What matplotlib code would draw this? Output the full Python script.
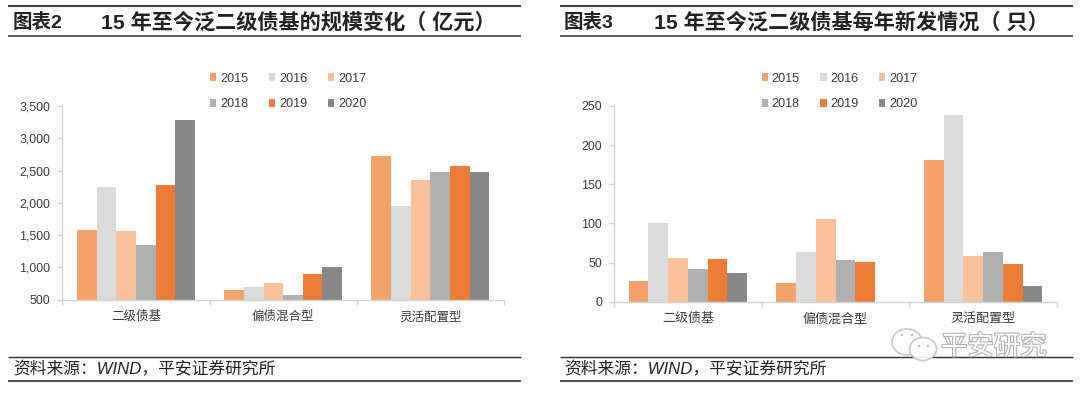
import numpy as np
import matplotlib
matplotlib.use('Agg')
import matplotlib.pyplot as plt
import matplotlib.patheffects as pe
from matplotlib.patches import Ellipse

# Chart data
categories = ['二级债基', '偏债混合型', '灵活配置型']
years = ['2015', '2016', '2017', '2018', '2019', '2020']
scale_2015 = [1580, 645, 2730]
scale_2016 = [2238, 695, 1950]
scale_2017 = [1560, 760, 2360]
scale_2018 = [1345, 570, 2475]
scale_2019 = [2280, 895, 2565]
scale_2020 = [3280, 1000, 2480]
new_2015 = [26, 23.5, 181]
new_2016 = [101, 63, 238]
new_2017 = [56, 106, 58]
new_2018 = [42, 53, 63]
new_2019 = [54, 51, 48]
new_2020 = [37, 0, 20]
left_ticks = [500, 1000, 1500, 2000, 2500, 3000, 3500]
right_ticks = [0, 50, 100, 150, 200, 250]
colors = ['#F4A26B', '#DBDBDB', '#F8C19A', '#B0B0B0', '#ED7D36', '#878787']

W, H = 1080, 394
LATIN_CJK = ['Liberation Sans', 'Noto Sans CJK SC']
TEXT = '#3A3A3A'
AXIS = '#D2D2D2'

fig = plt.figure(figsize=(W / 100, H / 100), dpi=100)

# Overlay in pixel coordinates for the header and footer furniture
bg = fig.add_axes([0, 0, 1, 1])
bg.set_xlim(0, W)
bg.set_ylim(H, 0)
bg.axis('off')


def draw_panel(x0, x1, y0, y1, series, ticks, ymin, ymax, legend_x, cat_size):
    ax = fig.add_axes([x0 / W, 1 - y1 / H, (x1 - x0) / W, (y1 - y0) / H])
    width = 1 / 7.5
    for i, vals in enumerate(series):
        pos = np.arange(len(categories)) + (i - 2.5) * width
        ax.bar(pos, vals, width, color=colors[i], label=years[i], bottom=0)
    ax.set_xlim(-0.5, 2.5)
    ax.set_ylim(ymin, ymax)
    ax.set_yticks(ticks)
    ax.set_yticklabels([f'{t:,}' for t in ticks], family=LATIN_CJK, fontsize=8.9, color=TEXT)
    ax.set_xticks(range(len(categories)))
    ax.set_xticklabels(categories, family=LATIN_CJK, fontsize=cat_size, color=TEXT)
    ax.set_xticks([-0.5, 0.5, 1.5, 2.5], minor=True)
    ax.tick_params(axis='x', which='major', length=0, pad=8)
    ax.tick_params(axis='x', which='minor', length=3.5, color=AXIS, width=1)
    ax.tick_params(axis='y', length=3.5, color=AXIS, width=1, pad=5)
    for s in ['top', 'right']:
        ax.spines[s].set_visible(False)
    for s in ['left', 'bottom']:
        ax.spines[s].set_color(AXIS)
        ax.spines[s].set_linewidth(1)
    # legend in two rows of three, filled row by row
    handles, labels = ax.get_legend_handles_labels()
    order = [0, 3, 1, 4, 2, 5]
    leg = ax.legend([handles[i] for i in order], [labels[i] for i in order], ncol=3,
                    loc='upper left', bbox_to_anchor=(legend_x / W, 1 - 72.5 / H),
                    bbox_transform=fig.transFigure, frameon=False,
                    prop={'family': LATIN_CJK, 'size': 9.1},
                    handlelength=0.5, handleheight=0.5, handletextpad=0.32,
                    columnspacing=1.6, labelspacing=1.1, borderpad=0, borderaxespad=0)
    for t in leg.get_texts():
        t.set_color(TEXT)
    return ax


def draw_frame(x0, x1, text_x, num, title_x, title):
    bg.plot([x0, x1], [6, 6], color='#404040', lw=1.5, solid_capstyle='butt')
    bg.plot([x0, x1], [36, 36], color='#404040', lw=1.2, solid_capstyle='butt')
    bg.plot([x0, x1], [357, 357], color='#303030', lw=1.0, solid_capstyle='butt')
    bg.plot([x0, x1], [381, 381], color='#303030', lw=1.2, solid_capstyle='butt')
    bg.text(text_x, 22, num, family=LATIN_CJK, fontsize=14, fontweight='bold',
            color='#222222', va='center', ha='left')
    bg.text(title_x, 22, title, family=LATIN_CJK, fontsize=15.2, fontweight='bold',
            color='#222222', va='center', ha='left')
    bg.text(text_x, 369, '资料来源：WIND，平安证券研究所', family=LATIN_CJK, fontsize=12.1,
            style='italic', color='#222222', va='center', ha='left')


draw_frame(8, 521, 13, '图表2', 101, '15 年至今泛二级债基的规模变化（ 亿元）')
draw_frame(560, 1073, 564, '图表3', 653.5, '15 年至今泛二级债基每年新发情况（ 只）')

draw_panel(62.3, 504, 106, 299.7,
           [scale_2015, scale_2016, scale_2017, scale_2018, scale_2019, scale_2020],
           left_ticks, 500, 3500, 210, 9.0)
draw_panel(614, 1057, 106, 301.7,
           [new_2015, new_2016, new_2017, new_2018, new_2019, new_2020],
           right_ticks, 0, 250, 761.5, 9.4)

# Watermark sits on top of everything
wm = fig.add_axes([0, 0, 1, 1], zorder=10)
wm.set_xlim(0, W)
wm.set_ylim(H, 0)
wm.axis('off')
wm.patch.set_alpha(0)
for cx, cy, w, h in [(907, 342, 30, 26), (923, 349, 27, 23)]:
    wm.add_patch(Ellipse((cx, cy), w, h, facecolor='white', edgecolor='#C4C4C4', lw=1.2, alpha=0.9))
for cx, cy in [(902, 335), (912, 335), (919, 346), (928, 346)]:
    wm.add_patch(Ellipse((cx, cy), 2.5, 2.5, facecolor='#BDBDBD', edgecolor='none'))
wm.text(941, 347, '平安研究', family=LATIN_CJK, fontsize=19, color='white', va='center', ha='left',
        path_effects=[pe.withStroke(linewidth=1.6, foreground='#B4B4B4')])

fig.savefig('out.png', dpi=100)
